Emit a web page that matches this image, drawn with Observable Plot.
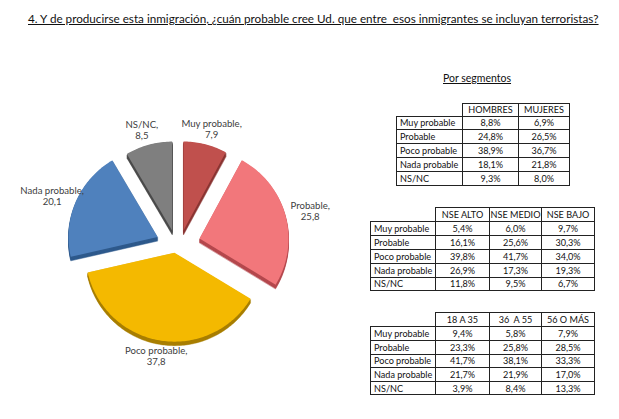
<!DOCTYPE html>
<html><head><meta charset="utf-8">
<script src="https://cdn.jsdelivr.net/npm/d3@7"></script>
<script src="https://cdn.jsdelivr.net/npm/@observablehq/plot@0.6"></script>
<style>
body{margin:0;background:#fff;font-family:Lato,"Open Sans",sans-serif;}
#wrap{position:relative;width:619px;height:419px;overflow:hidden;background:#fff;}
#title{position:absolute;left:28px;top:11px;font-size:11.7px;text-decoration:underline;white-space:pre;color:#111;}
#seg{position:absolute;left:443px;top:72px;font-size:10.5px;text-decoration:underline;color:#111;}
#pie{position:absolute;left:0;top:40px;}
table{position:absolute;border-collapse:collapse;font-size:9.1px;color:#111;table-layout:fixed;}
td{border:1px solid #222;padding:0 0 0 3px;line-height:1;overflow:hidden;white-space:pre;}
td.v{text-align:center;padding:0;}
td.empty{border:none;}
</style></head>
<body>
<div id="wrap">
  <div id="title">4. Y de producirse esta inmigración, ¿cuán probable cree Ud. que entre  esos inmigrantes se incluyan terroristas?</div>
  <div id="seg">Por segmentos</div>
  <div id="pie"></div>
</div>
<script>
// ---- data ----
const categories = ["Muy probable","Probable","Poco probable","Nada probable","NS/NC"];
const pieValues = [7.9, 25.8, 37.8, 20.1, 8.5];
const pieColors = ["#C0504D","#F2777B","#F4B900","#4F81BD","#7F7F7F"];
const pieDark   = ["#8A3533","#B5494E","#A87E00","#2F5A8C","#4A4A4A"];

const sexHeaders = ["HOMBRES","MUJERES"];
const hombres = [8.8, 24.8, 38.9, 18.1, 9.3];
const mujeres = [6.9, 26.5, 36.7, 21.8, 8.0];

const nseHeaders = ["NSE ALTO","NSE MEDIO","NSE BAJO"];
const nseAlto  = [5.4, 16.1, 39.8, 26.9, 11.8];
const nseMedio = [6.0, 25.6, 41.7, 17.3, 9.5];
const nseBajo  = [9.7, 30.3, 34.0, 19.3, 6.7];

const ageHeaders = ["18 A 35","36  A 55","56 O MÁS"];
const age18 = [9.4, 23.3, 41.7, 21.7, 3.9];
const age36 = [5.8, 25.8, 38.1, 21.9, 8.4];
const age56 = [7.9, 28.5, 33.3, 17.0, 13.3];

const fmt = v => v.toFixed(1).replace(".", ",");

// ---- tables ----
function makeTable(left, top, colW, headH, rowH, headers, cols) {
  const t = d3.select("#wrap").append("table")
    .style("left", left + "px").style("top", top + "px")
    .style("width", d3.sum(colW) + "px");
  const cg = t.append("colgroup");
  colW.forEach(w => cg.append("col").style("width", w + "px"));
  const hr = t.append("tr").style("height", headH + "px");
  hr.append("td").attr("class", "empty");
  headers.forEach(h => hr.append("td").attr("class", "v").text(h));
  categories.forEach((c, i) => {
    const r = t.append("tr").style("height", rowH + "px");
    r.append("td").text(c);
    cols.forEach(col => r.append("td").attr("class", "v").text(fmt(col[i]) + "%"));
  });
}
makeTable(396, 103, [66, 56, 51], 12.6, 13.8, sexHeaders, [hombres, mujeres]);
makeTable(370, 207, [65, 54, 52, 53], 14, 13.9, nseHeaders, [nseAlto, nseMedio, nseBajo]);
makeTable(370, 312, [65, 54, 52, 53], 14.4, 13.6, ageHeaders, [age18, age36, age56]);

// ---- pie ----
const W = 360, H = 379;
const cx = 177.5, cy = 201, R = 89, ex = 22.3, ey = 11.3, depth = 4;
const arcs = d3.pie().sort(null).value(d => d)(pieValues);
const slices = arcs.map((a, i) => {
  const mid = (a.startAngle + a.endAngle) / 2;
  const ox = cx + Math.sin(mid) * ex, oy = cy - Math.cos(mid) * ey;
  const pts = [{x: ox, y: oy}];
  const n = Math.max(8, Math.ceil((a.endAngle - a.startAngle) / 0.02));
  for (let j = 0; j <= n; j++) {
    const t = a.startAngle + (a.endAngle - a.startAngle) * j / n;
    pts.push({x: ox + R * Math.sin(t), y: oy - R * Math.cos(t)});
  }
  return pts;
});
const marks = [];
slices.forEach((pts, i) => {
  for (let d = depth; d >= 1; d--) {
    marks.push(Plot.line(pts, {x: "x", y: p => p.y + d, fill: pieDark[i], stroke: pieDark[i], strokeWidth: 0.5, curve: "linear-closed"}));
  }
});
slices.forEach((pts, i) => {
  marks.push(Plot.line(pts, {x: "x", y: "y", fill: pieColors[i], stroke: "none", curve: "linear-closed"}));
});
marks.push(Plot.text(arcs, {
  x: a => cx + Math.sin((a.startAngle + a.endAngle) / 2) * 137,
  y: a => cy - Math.cos((a.startAngle + a.endAngle) / 2) * 116,
  text: (a, i) => categories[i] + ",\n" + fmt(a.data),
  fontSize: 9.6, fill: "#404040", lineHeight: 1.15
}));
const chart = Plot.plot({
  width: W, height: H, margin: 0,
  x: {domain: [0, W], range: [0, W], axis: null},
  y: {domain: [0, H], range: [0, H], axis: null},
  style: {fontFamily: "Lato, 'Open Sans', sans-serif", background: "transparent"},
  marks
});
document.getElementById("pie").appendChild(chart);
</script>
</body></html>
